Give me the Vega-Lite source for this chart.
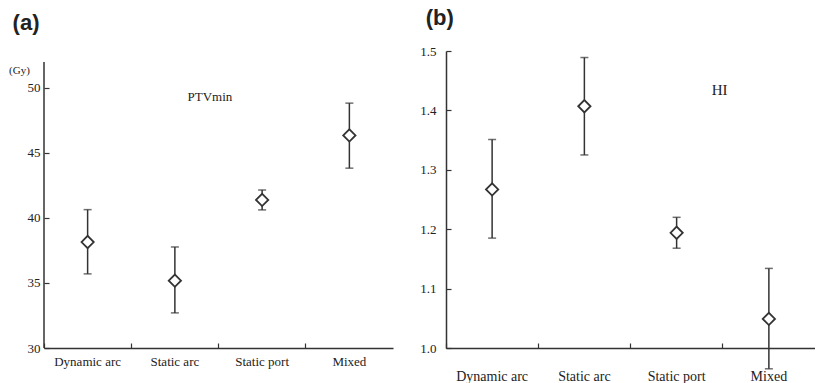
{
  "$schema": "https://vega.github.io/schema/vega-lite/v6.json",
  "padding": {"left": 8, "top": 7, "right": 0, "bottom": 0},
  "background": "white",
  "spacing": 26,
  "datasets": {
    "a": [
      {"method": "Dynamic arc", "mean": 38.15, "lo": 35.7, "hi": 40.64},
      {"method": "Static arc", "mean": 35.18, "lo": 32.7, "hi": 37.77},
      {"method": "Static port", "mean": 41.39, "lo": 40.62, "hi": 42.15},
      {"method": "Mixed", "mean": 46.35, "lo": 43.83, "hi": 48.83}
    ],
    "b": [
      {"method": "Dynamic arc", "mean": 1.267, "lo": 1.185, "hi": 1.351},
      {"method": "Static arc", "mean": 1.407, "lo": 1.325, "hi": 1.489},
      {"method": "Static port", "mean": 1.194, "lo": 1.168, "hi": 1.22},
      {"method": "Mixed", "mean": 1.049, "lo": 0.965, "hi": 1.134}
    ]
  },
  "config": {
    "view": {"stroke": null},
    "axis": {
      "domainColor": "#333",
      "domainWidth": 1.5,
      "tickColor": "#333",
      "tickWidth": 1.2,
      "grid": false,
      "labelFont": "Liberation Serif",
      "labelColor": "#222",
      "titleFont": "Liberation Serif",
      "titleColor": "#222",
      "titleFontWeight": "normal"
    },
    "title": {"font": "Liberation Sans", "fontWeight": "bold", "fontSize": 22, "color": "#222", "anchor": "start"}
  },
  "hconcat": [
    {
      "width": 349,
      "height": 297,
      "title": {"text": "(a)", "dx": 4, "offset": 16},
      "data": {"name": "a"},
      "encoding": {
        "x": {
          "field": "method", "type": "nominal", "sort": null,
          "scale": {"paddingInner": 0, "paddingOuter": 0},
          "axis": {"title": null, "labelAngle": 0, "bandPosition": 0, "tickSize": -5, "labelPadding": 12, "labelFontSize": 13}
        }
      },
      "layer": [
        {
          "data": {"values": [{}]},
          "mark": {"type": "rule", "color": "#333", "strokeWidth": 1.5},
          "encoding": {
            "x": {"datum": "Dynamic arc", "bandPosition": 0},
            "y": {"datum": 30},
            "y2": {"datum": 52}
          }
        },
        {
          "mark": {"type": "rule", "color": "#333", "strokeWidth": 1.5},
          "encoding": {
            "y": {"field": "lo", "type": "quantitative",
              "scale": {"domain": [30, 52.84], "nice": false, "zero": false},
              "axis": {"title": "(Gy)", "domain": false, "values": [30, 35, 40, 45, 50], "tickSize": -5, "labelPadding": 9, "labelFontSize": 13,
                "titleAngle": 0, "titleX": -25, "titleY": 19, "titleAlign": "center", "titleBaseline": "middle", "titleFontSize": 11}},
            "y2": {"field": "hi"}
          }
        },
        {
          "mark": {"type": "tick", "color": "#333", "size": 8, "thickness": 1.5},
          "encoding": {"y": {"field": "lo", "type": "quantitative"}}
        },
        {
          "mark": {"type": "tick", "color": "#333", "size": 8, "thickness": 1.5},
          "encoding": {"y": {"field": "hi", "type": "quantitative"}}
        },
        {
          "mark": {"type": "point", "shape": "diamond", "filled": true, "fill": "white", "stroke": "#333", "strokeWidth": 1.8, "size": 150, "opacity": 1},
          "encoding": {"y": {"field": "mean", "type": "quantitative"}}
        },
        {
          "data": {"values": [{}]},
          "mark": {"type": "text", "font": "Liberation Serif", "fontSize": 13, "color": "#222", "dx": 35},
          "encoding": {
            "x": {"datum": "Static arc"},
            "y": {"datum": 49.3},
            "text": {"value": "PTVmin"}
          }
        }
      ]
    },
    {
      "width": 369,
      "height": 297,
      "title": {"text": "(b)", "dx": 6, "offset": 15},
      "data": {"name": "b"},
      "encoding": {
        "x": {
          "field": "method", "type": "nominal", "sort": null,
          "scale": {"paddingInner": 0, "paddingOuter": 0},
          "axis": {"title": null, "labelAngle": 0, "bandPosition": 0, "tickSize": -5, "labelPadding": 26, "labelFontSize": 14}
        }
      },
      "layer": [
        {
          "mark": {"type": "rule", "color": "#333", "strokeWidth": 1.5},
          "encoding": {
            "y": {"field": "lo", "type": "quantitative",
              "scale": {"domain": [1.0, 1.5], "nice": false, "zero": false},
              "axis": {"title": null, "values": [1.0, 1.1, 1.2, 1.3, 1.4, 1.5], "format": ".1f", "tickSize": -5, "labelPadding": 15, "labelFontSize": 13}},
            "y2": {"field": "hi"}
          }
        },
        {
          "mark": {"type": "tick", "color": "#333", "size": 8, "thickness": 1.5},
          "encoding": {"y": {"field": "lo", "type": "quantitative"}}
        },
        {
          "mark": {"type": "tick", "color": "#333", "size": 8, "thickness": 1.5},
          "encoding": {"y": {"field": "hi", "type": "quantitative"}}
        },
        {
          "mark": {"type": "point", "shape": "diamond", "filled": true, "fill": "white", "stroke": "#333", "strokeWidth": 1.8, "size": 150, "opacity": 1},
          "encoding": {"y": {"field": "mean", "type": "quantitative"}}
        },
        {
          "data": {"values": [{}]},
          "mark": {"type": "text", "font": "Liberation Serif", "fontSize": 15, "color": "#222", "dx": 43},
          "encoding": {
            "x": {"datum": "Static port"},
            "y": {"datum": 1.434},
            "text": {"value": "HI"}
          }
        }
      ]
    }
  ]
}
